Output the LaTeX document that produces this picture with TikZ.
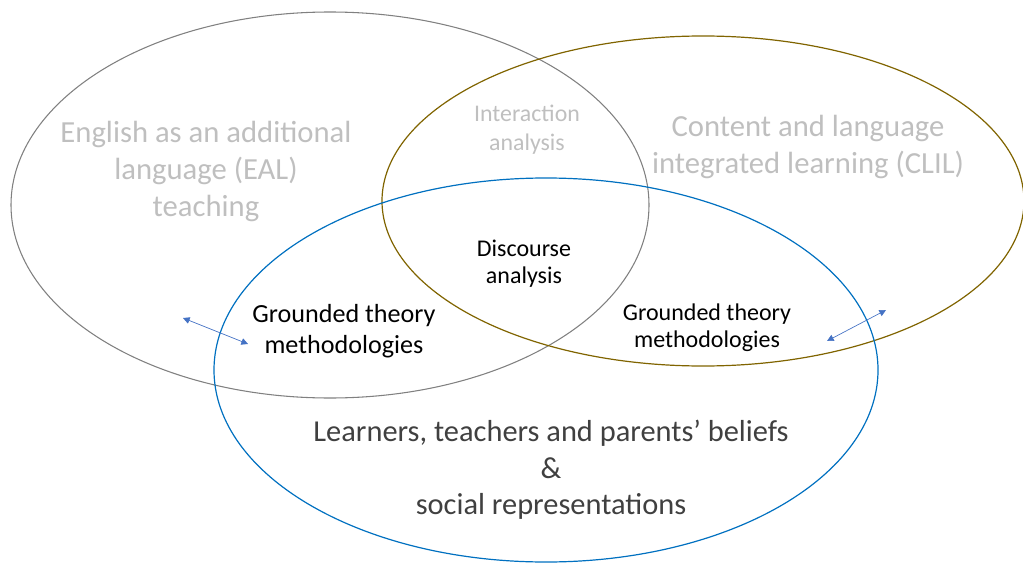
\documentclass[tikz,border=0pt]{standalone}
\usepackage{fontspec}
\setmainfont{Carlito}
\usetikzlibrary{arrows.meta}
\definecolor{ealgray}{RGB}{128,128,128}
\definecolor{clilgold}{RGB}{128,100,0}
\definecolor{beliefblue}{RGB}{0,112,192}
\definecolor{arrowblue}{RGB}{68,114,196}
\definecolor{paletext}{RGB}{191,191,191}
\definecolor{darktext}{RGB}{64,64,64}
\begin{document}
\begin{tikzpicture}[x=0.75pt, y=-0.75pt,
    field label/.style={align=center, text=paletext, font=\fontsize{23}{27.75}\selectfont},
    small label/.style={align=center, text=paletext, font=\fontsize{17.9}{21.75}\selectfont},
    method label/.style={align=center, text=black, font=\fontsize{18}{20.25}\selectfont},
    link arrow/.style={draw=arrowblue, line width=0.5pt, {Triangle[width=5pt,length=5pt]}-{Triangle[width=5pt,length=5pt]}}]
    \useasboundingbox (0, 0) rectangle (1023, 563);

    % les trois ellipses
    \draw[ealgray, line width=0.8pt] (330, 205) ellipse [x radius=319, y radius=193];
    \draw[clilgold, line width=0.9pt] (703, 201) ellipse [x radius=321, y radius=165];
    \draw[beliefblue, line width=0.9pt] (546, 370) ellipse [x radius=332, y radius=192];

    % textes des domaines
    \node[field label] (eal) at (206, 171) {English as an additional\\language (EAL)\\teaching};
    \node[field label] (clil) at (808, 147) {Content and language\\integrated learning (CLIL)};
    \node[small label] (interaction) at (527, 130) {Interaction\\analysis};
    \node[align=center, text=darktext, font=\fontsize{22.8}{27.4}\selectfont] (beliefs) at (551, 470) {Learners, teachers and parents’ beliefs\\\&\\social representations};

    % methodes
    \node[method label] (discourse) at (524, 264) {Discourse\\analysis};
    \node[method label, font=\fontsize{19.6}{23}\selectfont] (gtleft) at (344, 331) {Grounded theory\\methodologies};
    \node[method label] (gtright) at (707, 328) {Grounded theory\\methodologies};

    % fleches
    \coordinate (lefttip) at (183, 318);
    \coordinate (leftend) at (248, 344);
    \coordinate (righttip) at (886, 310);
    \coordinate (rightend) at (827, 341);
    \draw[link arrow] (lefttip) -- (leftend);
    \draw[link arrow] (rightend) -- (righttip);
\end{tikzpicture}
\end{document}
